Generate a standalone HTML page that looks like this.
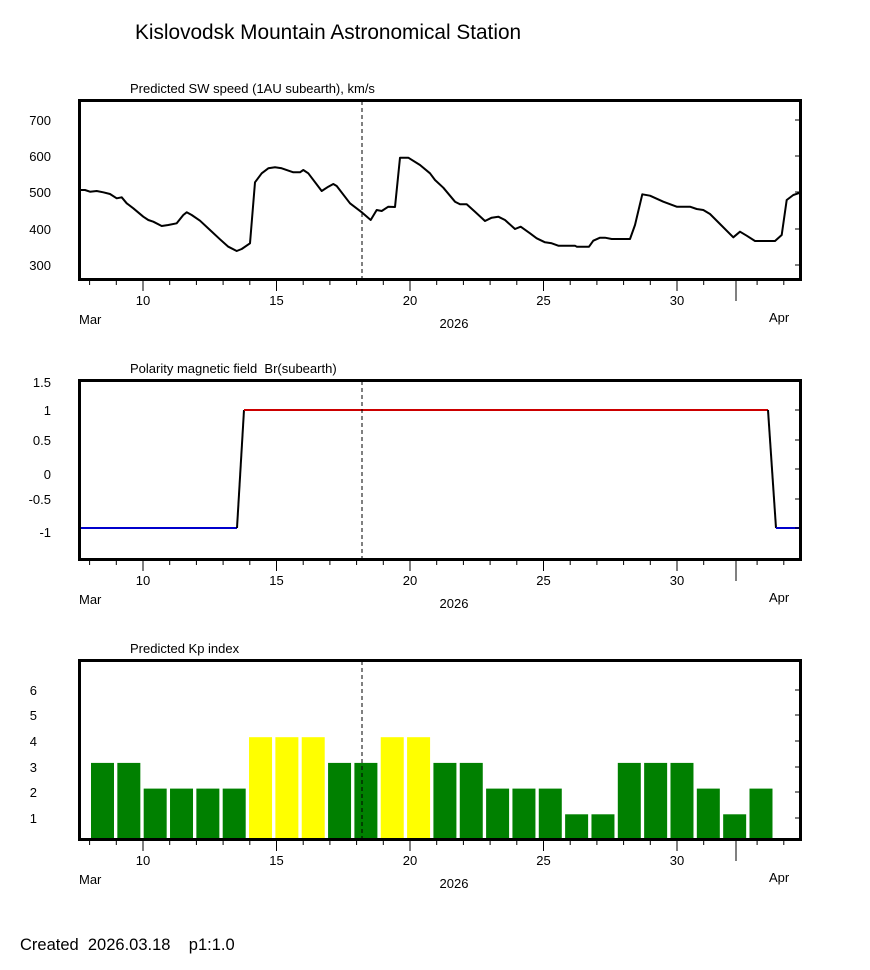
<!DOCTYPE html>
<html><head><meta charset="utf-8"><style>
body{margin:0;background:#fff;}
svg text{font-family:"Liberation Sans",Arial,sans-serif;fill:#000;white-space:pre;}
</style></head><body>
<svg width="870" height="965" viewBox="0 0 870 965" xmlns="http://www.w3.org/2000/svg" xml:space="preserve">
<rect width="870" height="965" fill="#fff"/>
<text x="135" y="39" font-size="20.8">Kislovodsk Mountain Astronomical Station</text>

<!-- Panel 1 -->
<text x="130" y="93" font-size="13">Predicted SW speed (1AU subearth), km/s</text>
<g font-size="13" text-anchor="end">
<text x="51" y="125">700</text><text x="51" y="161">600</text><text x="51" y="197">500</text><text x="51" y="234">400</text><text x="51" y="270">300</text>
</g>
<polyline fill="none" stroke="#000" stroke-width="2" stroke-linejoin="round" points="80,190 85,190 90,191.7 96.7,191 103.3,192.3 110,194 116.7,198.3 121.7,197.3 126.7,203.3 133.3,208.3 143.3,216.7 148.3,220 153.3,221.7 161.7,226 168.3,225 176.7,223.3 183.3,215 186.7,212.3 191.7,215 200,220.7 210,230 220,239.3 228.3,246.7 236.7,251 241.7,249 250,243.3 255,182.3 261.7,173.3 268.3,168.3 275,167.3 281.7,168.3 293.3,172.3 300,172.3 303.3,170 308.3,173.3 321.7,191 328.3,186.7 333.3,184 336.7,186 350,203.3 362.3,212.7 370.7,220 376.7,210 381.7,211 388.3,206.7 395,207 400,157.7 408.3,157.7 420,165 430,173.3 435,180 443.3,187.7 455,201.7 460,204.3 466.7,204.3 475,211.7 485,221 491.7,217.7 498.3,216.7 505,220 515,229 520.7,226.7 530,233.3 536.7,238.3 545,242.3 551.7,243.3 558.3,245.7 575,245.7 576.7,246.7 589,246.7 593.3,240.7 600,237.7 605,237.7 611.7,239 630,239 635,225 642.3,194.3 650,195.7 663.3,201.7 676.7,206.7 690,206.7 696.7,209 703.3,210 710,214 720,224 733.3,237.3 740,231.7 746.7,235.7 755,241 775,241 781.7,235 786.7,200 793.3,195 798.3,193.3 800,193"/>
<line x1="362" y1="101" x2="362" y2="279" stroke="#000" stroke-width="1" stroke-dasharray="4,3"/>
<rect x="79.5" y="100.5" width="721" height="179" fill="none" stroke="#000" stroke-width="3"/>
<g stroke="#000" stroke-width="1">
<line x1="795" y1="120" x2="801" y2="120"/><line x1="795" y1="156" x2="801" y2="156"/><line x1="795" y1="192" x2="801" y2="192"/><line x1="795" y1="229" x2="801" y2="229"/><line x1="795" y1="265" x2="801" y2="265"/>
</g>

<!-- Panel 2 -->
<text x="130" y="373" font-size="13">Polarity magnetic field  Br(subearth)</text>
<g font-size="13" text-anchor="end">
<text x="51" y="387">1.5</text><text x="51" y="415">1</text><text x="51" y="445">0.5</text><text x="51" y="479">0</text><text x="51" y="504">-0.5</text><text x="51" y="537">-1</text>
</g>
<polyline fill="none" stroke="#0000cc" stroke-width="2" points="80,528 237,528"/>
<polyline fill="none" stroke="#000" stroke-width="2" points="237,528 244,410"/>
<polyline fill="none" stroke="#cc0000" stroke-width="2" points="244,410 768,410"/>
<polyline fill="none" stroke="#000" stroke-width="2" points="768,410 776,528"/>
<polyline fill="none" stroke="#0000cc" stroke-width="2" points="776,528 800,528"/>
<line x1="362" y1="381" x2="362" y2="559" stroke="#000" stroke-width="1" stroke-dasharray="4,3"/>
<rect x="79.5" y="380.5" width="721" height="179" fill="none" stroke="#000" stroke-width="3"/>
<g stroke="#000" stroke-width="1">
<line x1="795" y1="410" x2="801" y2="410"/><line x1="795" y1="440" x2="801" y2="440"/><line x1="795" y1="469" x2="801" y2="469"/><line x1="795" y1="499" x2="801" y2="499"/><line x1="795" y1="528" x2="801" y2="528"/>
</g>

<!-- Panel 3 -->
<text x="130" y="653" font-size="13">Predicted Kp index</text>
<g font-size="13" text-anchor="end">
<text x="37" y="695">6</text><text x="37" y="720">5</text><text x="37" y="746">4</text><text x="37" y="772">3</text><text x="37" y="797">2</text><text x="37" y="823">1</text>
</g>
<g id="bars"></g>
<line x1="362" y1="661" x2="362" y2="839" stroke="#000" stroke-width="1" stroke-dasharray="4,3"/>
<rect x="79.5" y="660.5" width="721" height="179" fill="none" stroke="#000" stroke-width="3"/>
<g stroke="#000" stroke-width="1">
<line x1="795" y1="690" x2="801" y2="690"/><line x1="795" y1="715" x2="801" y2="715"/><line x1="795" y1="741" x2="801" y2="741"/><line x1="795" y1="767" x2="801" y2="767"/><line x1="795" y1="792" x2="801" y2="792"/><line x1="795" y1="818" x2="801" y2="818"/>
</g>

<text x="20" y="950" font-size="16.5">Created  2026.03.18    p1:1.0</text>
</svg>
<script>
var ns="http://www.w3.org/2000/svg";
var svg=document.querySelector("svg");
function el(n,a,t){var e=document.createElementNS(ns,n);for(var k in a)e.setAttribute(k,a[k]);if(t)e.textContent=t;svg.appendChild(e);return e;}
function xd(d){return 143+(d-10)*26.7;}
[281,561,841].forEach(function(b){
 for(var d=8;d<=34;d++){var x=xd(d);var len=(d%5==0)?10:4;if(d==32){len=20;x=736;}
  el("line",{x1:x,y1:b,x2:x,y2:b+len,stroke:"#000","stroke-width":1});}
 [10,15,20,25,30].forEach(function(d){el("text",{x:xd(d),y:b+24,"font-size":13,"text-anchor":"middle"},String(d));});
 el("text",{x:79,y:b+43,"font-size":13},"Mar");
 el("text",{x:769,y:b+41,"font-size":13},"Apr");
 el("text",{x:454,y:b+47,"font-size":13,"text-anchor":"middle"},"2026");
});
var kp=[3,3,2,2,2,2,4,4,4,3,3,4,4,3,3,2,2,2,1,1,3,3,3,2,1,2];
var yel=[6,7,8,11,12];
var g=svg.querySelector("#bars");
kp.forEach(function(v,i){var x=91+i*26.34;var h=v*25.7;
 var r=document.createElementNS(ns,"rect");
 r.setAttribute("x",x);r.setAttribute("y",840-h);r.setAttribute("width",23);r.setAttribute("height",h);
 r.setAttribute("fill",yel.indexOf(i)>=0?"#ffff00":"#008000");g.appendChild(r);});
</script>
</body></html>
